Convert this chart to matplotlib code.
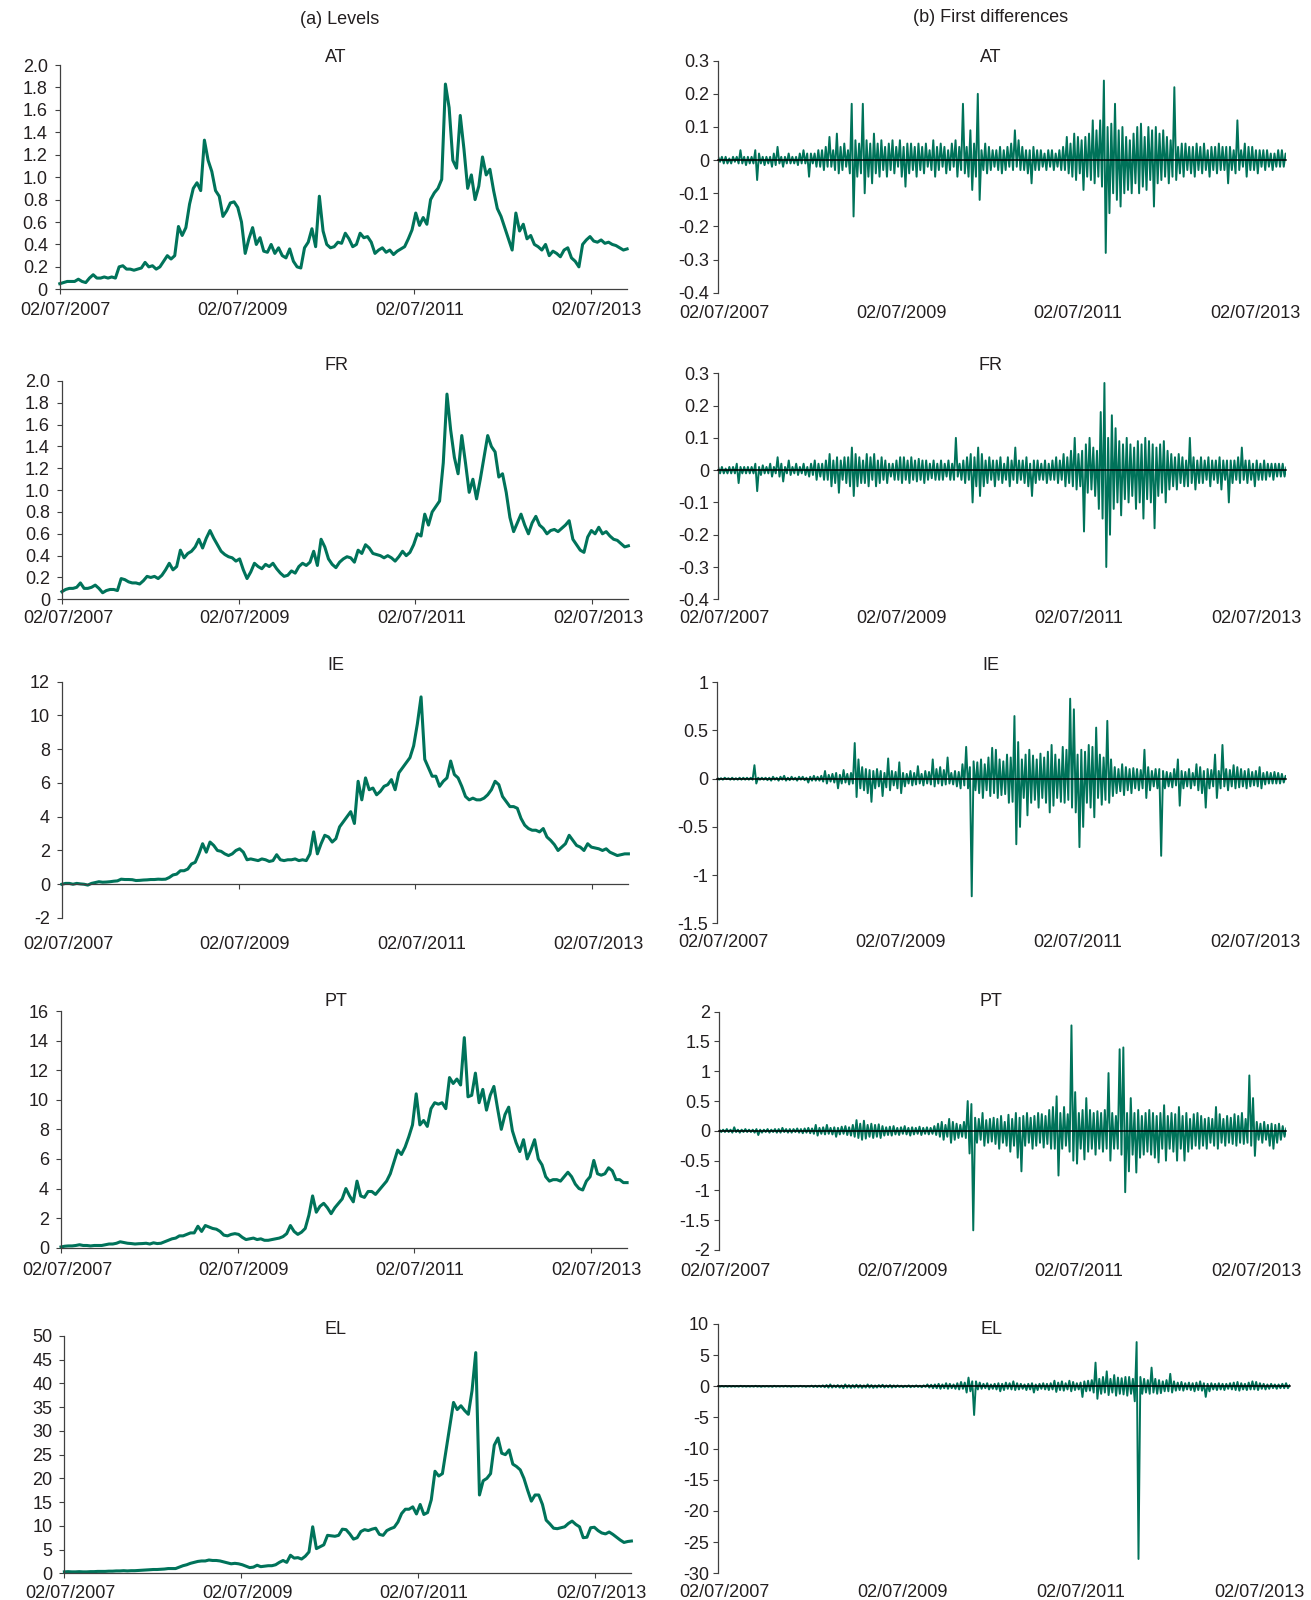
import numpy as np
import pandas as pd
import matplotlib
matplotlib.use('Agg')
import matplotlib.pyplot as plt
from matplotlib.ticker import FixedLocator, FuncFormatter
from matplotlib.transforms import ScaledTranslation
import matplotlib.dates as mdates

plt.rcParams['font.family'] = ['Liberation Sans', 'DejaVu Sans']
plt.rcParams['font.size'] = 13

countries = ['AT', 'FR', 'IE', 'PT', 'EL']
start, end = '2007-07-02', '2013-11-29'
tick_dates = ['2007-07-02', '2009-07-02', '2011-07-02', '2013-07-02']

# levels
at_level = [0.05, 0.06, 0.07, 0.07, 0.07, 0.09, 0.07, 0.06, 0.10, 0.13,
            0.10, 0.10, 0.11, 0.10, 0.11, 0.10, 0.20, 0.21, 0.18, 0.18,
            0.17, 0.18, 0.19, 0.24, 0.20, 0.21, 0.18, 0.20, 0.25, 0.30,
            0.27, 0.30, 0.56, 0.48, 0.55, 0.76, 0.90, 0.95, 0.88, 1.33,
            1.15, 1.05, 0.88, 0.83, 0.65, 0.70, 0.77, 0.78, 0.73, 0.60,
            0.32, 0.45, 0.55, 0.40, 0.46, 0.34, 0.33, 0.40, 0.32, 0.37,
            0.30, 0.28, 0.36, 0.25, 0.20, 0.19, 0.37, 0.42, 0.54, 0.38,
            0.83, 0.52, 0.40, 0.37, 0.38, 0.42, 0.41, 0.50, 0.45, 0.38,
            0.40, 0.50, 0.46, 0.47, 0.42, 0.32, 0.35, 0.37, 0.33, 0.35,
            0.31, 0.34, 0.36, 0.38, 0.45, 0.53, 0.68, 0.57, 0.64, 0.58,
            0.80, 0.86, 0.90, 0.98, 1.83, 1.62, 1.15, 1.08, 1.55, 1.25,
            0.90, 1.02, 0.80, 0.92, 1.18, 1.02, 1.07, 0.88, 0.72, 0.65,
            0.55, 0.45, 0.35, 0.68, 0.52, 0.58, 0.45, 0.48, 0.40, 0.38,
            0.35, 0.40, 0.30, 0.34, 0.32, 0.29, 0.35, 0.37, 0.28, 0.25,
            0.20, 0.40, 0.44, 0.47, 0.43, 0.42, 0.44, 0.41, 0.42, 0.40,
            0.39, 0.37, 0.35, 0.36]
fr_level = [0.07, 0.09, 0.10, 0.10, 0.11, 0.15, 0.10, 0.10, 0.11, 0.13,
            0.10, 0.06, 0.08, 0.09, 0.09, 0.08, 0.19, 0.18, 0.16, 0.15,
            0.15, 0.14, 0.17, 0.21, 0.20, 0.21, 0.19, 0.22, 0.27, 0.33,
            0.27, 0.30, 0.45, 0.38, 0.42, 0.44, 0.48, 0.55, 0.47, 0.56,
            0.63, 0.56, 0.50, 0.44, 0.41, 0.39, 0.38, 0.35, 0.37, 0.27,
            0.19, 0.25, 0.33, 0.30, 0.28, 0.32, 0.30, 0.33, 0.28, 0.24,
            0.21, 0.22, 0.26, 0.24, 0.30, 0.33, 0.31, 0.34, 0.44, 0.31,
            0.55, 0.48, 0.37, 0.32, 0.29, 0.34, 0.37, 0.39, 0.38, 0.34,
            0.45, 0.42, 0.50, 0.47, 0.42, 0.41, 0.40, 0.38, 0.40, 0.38,
            0.35, 0.39, 0.44, 0.40, 0.43, 0.50, 0.60, 0.58, 0.78, 0.68,
            0.80, 0.85, 0.90, 1.25, 1.88, 1.55, 1.30, 1.15, 1.50, 1.25,
            0.98, 1.10, 0.92, 1.10, 1.30, 1.50, 1.40, 1.35, 1.12, 1.15,
            0.98, 0.75, 0.62, 0.70, 0.78, 0.68, 0.60, 0.70, 0.76, 0.68,
            0.65, 0.60, 0.63, 0.64, 0.62, 0.65, 0.68, 0.72, 0.55, 0.50,
            0.45, 0.43, 0.57, 0.63, 0.60, 0.66, 0.60, 0.62, 0.58, 0.55,
            0.54, 0.51, 0.48, 0.49]
ie_level = [0.00, 0.05, 0.05, 0.00, 0.05, 0.02, 0.00, -0.05, 0.05, 0.10,
            0.15, 0.12, 0.13, 0.15, 0.18, 0.20, 0.30, 0.28, 0.28, 0.27,
            0.22, 0.23, 0.25, 0.26, 0.28, 0.28, 0.30, 0.29, 0.30, 0.40,
            0.55, 0.60, 0.80, 0.80, 0.90, 1.20, 1.30, 1.80, 2.40, 1.90,
            2.50, 2.30, 2.00, 1.95, 1.80, 1.70, 1.80, 2.00, 2.10, 1.90,
            1.45, 1.50, 1.45, 1.40, 1.50, 1.45, 1.35, 1.40, 1.75, 1.45,
            1.40, 1.45, 1.45, 1.50, 1.40, 1.45, 1.40, 1.80, 3.10, 1.80,
            2.40, 2.90, 2.80, 2.50, 2.70, 3.40, 3.70, 4.00, 4.30, 3.60,
            6.10, 5.00, 6.30, 5.60, 5.70, 5.30, 5.50, 5.80, 5.90, 6.20,
            5.60, 6.60, 6.90, 7.20, 7.50, 8.20, 9.50, 11.10, 7.40, 6.90,
            6.40, 6.40, 5.80, 6.10, 6.30, 7.30, 6.50, 6.30, 5.80, 5.20,
            5.00, 5.10, 5.00, 5.00, 5.10, 5.30, 5.60, 6.10, 5.90, 5.20,
            4.90, 4.60, 4.60, 4.50, 3.90, 3.50, 3.30, 3.20, 3.20, 3.10,
            3.30, 2.80, 2.60, 2.35, 2.00, 2.20, 2.40, 2.90, 2.60, 2.30,
            2.20, 2.00, 2.40, 2.20, 2.15, 2.10, 2.00, 2.10, 1.90, 1.80,
            1.70, 1.75, 1.80, 1.80]
pt_level = [0.05, 0.10, 0.12, 0.12, 0.15, 0.20, 0.15, 0.15, 0.12, 0.15,
            0.15, 0.15, 0.20, 0.25, 0.25, 0.30, 0.40, 0.35, 0.30, 0.28,
            0.25, 0.27, 0.28, 0.30, 0.25, 0.33, 0.28, 0.30, 0.40, 0.50,
            0.60, 0.65, 0.80, 0.80, 0.90, 1.00, 1.00, 1.45, 1.10, 1.50,
            1.40, 1.30, 1.25, 1.10, 0.85, 0.80, 0.90, 0.95, 0.90, 0.70,
            0.55, 0.60, 0.65, 0.55, 0.60, 0.50, 0.50, 0.55, 0.60, 0.65,
            0.75, 0.95, 1.50, 1.10, 0.90, 1.05, 1.30, 2.20, 3.50, 2.40,
            2.80, 3.00, 2.70, 2.30, 2.70, 3.00, 3.30, 4.00, 3.50, 3.10,
            4.50, 3.50, 3.40, 3.80, 3.80, 3.60, 3.90, 4.20, 4.50, 5.00,
            5.80, 6.60, 6.30, 6.80, 7.50, 8.30, 10.40, 8.30, 8.60, 8.20,
            9.40, 9.80, 9.70, 9.80, 9.40, 11.50, 11.10, 11.40, 11.00, 14.20,
            10.20, 10.30, 11.80, 9.80, 10.70, 9.30, 10.30, 10.90, 9.40, 8.00,
            9.00, 9.50, 7.90, 7.10, 6.50, 7.30, 6.00, 6.60, 7.30, 6.00,
            5.60, 4.80, 4.50, 4.60, 4.60, 4.50, 4.80, 5.10, 4.80, 4.30,
            4.00, 3.90, 4.50, 4.80, 5.90, 5.00, 4.90, 5.00, 5.40, 5.20,
            4.60, 4.60, 4.40, 4.40]
el_level = [0.3, 0.35, 0.3, 0.3, 0.35, 0.3, 0.3, 0.35, 0.35, 0.4,
            0.4, 0.4, 0.45, 0.45, 0.5, 0.5, 0.55, 0.5, 0.55, 0.55,
            0.6, 0.65, 0.7, 0.75, 0.8, 0.8, 0.85, 0.9, 1.0, 1.0,
            1.0, 1.3, 1.6, 1.8, 2.1, 2.3, 2.5, 2.6, 2.6, 2.8,
            2.7, 2.7, 2.6, 2.4, 2.2, 2.0, 2.1, 2.0, 1.8, 1.5,
            1.2, 1.3, 1.7, 1.4, 1.5, 1.6, 1.6, 1.8, 2.3, 2.7,
            2.3, 3.8, 3.2, 3.3, 3.0, 3.6, 4.5, 9.8, 5.2, 5.6,
            6.0, 8.0, 7.9, 7.8, 8.0, 9.3, 9.2, 8.3, 7.2, 7.5,
            8.8, 9.2, 9.0, 9.3, 9.5, 8.2, 8.0, 9.0, 9.4, 9.7,
            10.8, 12.6, 13.5, 13.5, 14.0, 12.5, 14.5, 12.4, 12.8, 15.5,
            21.5, 20.5, 21.0, 26.0, 31.0, 36.0, 34.5, 35.3, 34.3, 33.5,
            38.5, 46.5, 16.5, 19.5, 20.0, 21.0, 27.0, 28.5, 25.3, 25.0,
            26.0, 23.0, 22.5, 21.8, 20.0, 17.5, 15.2, 16.5, 16.5, 14.5,
            11.2, 10.4, 9.5, 9.4, 9.6, 9.8, 10.5, 11.0, 10.3, 9.8,
            7.5, 7.6, 9.6, 9.7, 9.0, 8.5, 8.3, 8.7, 8.2, 7.6,
            7.0, 6.5, 6.7, 6.8]

# first differences: largest rise and largest fall in each half month
at_up = [0.01, 0.01, 0.01, 0.005, 0.01, 0.01, 0.03, 0.01, 0.01, 0.01,
         0.03, 0.02, 0.01, 0.01, 0.01, 0.02, 0.04, 0.01, 0.01, 0.02,
         0.01, 0.01, 0.02, 0.03, 0.02, 0.02, 0.02, 0.03, 0.03, 0.04,
         0.07, 0.03, 0.08, 0.04, 0.05, 0.03, 0.17, 0.06, 0.05, 0.17,
         0.06, 0.05, 0.08, 0.05, 0.06, 0.04, 0.05, 0.06, 0.04, 0.06,
         0.04, 0.05, 0.05, 0.04, 0.05, 0.04, 0.05, 0.03, 0.06, 0.04,
         0.05, 0.04, 0.03, 0.05, 0.06, 0.04, 0.17, 0.04, 0.09, 0.05,
         0.20, 0.03, 0.05, 0.04, 0.03, 0.03, 0.04, 0.03, 0.04, 0.05,
         0.09, 0.06, 0.04, 0.03, 0.03, 0.04, 0.03, 0.03, 0.02, 0.03,
         0.03, 0.02, 0.03, 0.04, 0.07, 0.05, 0.08, 0.07, 0.06, 0.07,
         0.08, 0.12, 0.09, 0.12, 0.24, 0.10, 0.11, 0.17, 0.09, 0.10,
         0.07, 0.06, 0.08, 0.10, 0.11, 0.07, 0.10, 0.09, 0.10, 0.08,
         0.09, 0.07, 0.06, 0.22, 0.04, 0.05, 0.05, 0.04, 0.04, 0.05,
         0.04, 0.05, 0.03, 0.04, 0.04, 0.05, 0.04, 0.04, 0.04, 0.03,
         0.12, 0.03, 0.05, 0.04, 0.04, 0.03, 0.03, 0.03, 0.03, 0.02,
         0.02, 0.03, 0.03, 0.02]
at_dn = [-0.005, -0.01, -0.01, -0.01, -0.005, -0.01, -0.01, -0.015, -0.01, -0.01,
         -0.06, -0.01, -0.015, -0.01, -0.02, -0.015, -0.01, -0.02, -0.01, -0.01,
         -0.01, -0.015, -0.01, -0.01, -0.05, -0.01, -0.02, -0.02, -0.03, -0.02,
         -0.02, -0.03, -0.04, -0.03, -0.02, -0.04, -0.17, -0.05, -0.04, -0.10,
         -0.05, -0.07, -0.04, -0.05, -0.03, -0.05, -0.03, -0.04, -0.02, -0.05,
         -0.08, -0.04, -0.03, -0.05, -0.03, -0.04, -0.02, -0.03, -0.05, -0.03,
         -0.02, -0.04, -0.03, -0.02, -0.05, -0.03, -0.04, -0.05, -0.09, -0.05,
         -0.12, -0.03, -0.04, -0.03, -0.02, -0.03, -0.04, -0.03, -0.02, -0.03,
         -0.02, -0.03, -0.03, -0.04, -0.07, -0.03, -0.03, -0.02, -0.03, -0.02,
         -0.03, -0.02, -0.03, -0.03, -0.04, -0.05, -0.06, -0.04, -0.09, -0.05,
         -0.06, -0.07, -0.05, -0.08, -0.28, -0.16, -0.10, -0.12, -0.14, -0.10,
         -0.09, -0.10, -0.07, -0.10, -0.08, -0.09, -0.06, -0.14, -0.07, -0.06,
         -0.05, -0.07, -0.05, -0.06, -0.04, -0.05, -0.03, -0.04, -0.05, -0.03,
         -0.04, -0.03, -0.05, -0.03, -0.04, -0.03, -0.03, -0.07, -0.03, -0.04,
         -0.03, -0.02, -0.05, -0.03, -0.03, -0.04, -0.02, -0.03, -0.02, -0.03,
         -0.02, -0.02, -0.02, -0.01]
fr_up = [0.01, 0.01, 0.005, 0.01, 0.01, 0.02, 0.01, 0.01, 0.01, 0.01,
         0.02, 0.01, 0.015, 0.01, 0.02, 0.01, 0.04, 0.02, 0.01, 0.03,
         0.01, 0.02, 0.01, 0.02, 0.01, 0.02, 0.03, 0.02, 0.02, 0.03,
         0.05, 0.03, 0.04, 0.03, 0.04, 0.04, 0.07, 0.05, 0.04, 0.03,
         0.05, 0.04, 0.05, 0.03, 0.04, 0.03, 0.02, 0.02, 0.03, 0.04,
         0.04, 0.03, 0.04, 0.03, 0.035, 0.03, 0.03, 0.02, 0.03, 0.02,
         0.03, 0.02, 0.03, 0.02, 0.10, 0.02, 0.03, 0.04, 0.05, 0.04,
         0.07, 0.05, 0.03, 0.04, 0.03, 0.03, 0.04, 0.02, 0.04, 0.03,
         0.07, 0.03, 0.03, 0.04, 0.02, 0.03, 0.03, 0.02, 0.03, 0.02,
         0.03, 0.04, 0.03, 0.05, 0.04, 0.06, 0.10, 0.05, 0.06, 0.08,
         0.10, 0.07, 0.06, 0.18, 0.27, 0.10, 0.17, 0.13, 0.09, 0.08,
         0.10, 0.08, 0.07, 0.09, 0.08, 0.10, 0.09, 0.08, 0.07, 0.08,
         0.09, 0.06, 0.05, 0.04, 0.05, 0.04, 0.03, 0.10, 0.04, 0.03,
         0.04, 0.03, 0.04, 0.03, 0.03, 0.04, 0.03, 0.03, 0.03, 0.03,
         0.04, 0.07, 0.03, 0.03, 0.02, 0.03, 0.02, 0.03, 0.02, 0.02,
         0.02, 0.02, 0.02, 0.01]
fr_dn = [-0.01, -0.01, -0.01, -0.01, -0.01, -0.04, -0.01, -0.01, -0.01, -0.01,
         -0.065, -0.015, -0.01, -0.01, -0.02, -0.01, -0.02, -0.035, -0.01, -0.015,
         -0.01, -0.015, -0.01, -0.015, -0.02, -0.015, -0.03, -0.02, -0.03, -0.03,
         -0.05, -0.04, -0.07, -0.03, -0.04, -0.05, -0.08, -0.05, -0.04, -0.04,
         -0.05, -0.03, -0.05, -0.04, -0.03, -0.04, -0.02, -0.03, -0.03, -0.04,
         -0.03, -0.04, -0.03, -0.035, -0.03, -0.04, -0.03, -0.025, -0.03, -0.03,
         -0.03, -0.02, -0.03, -0.03, -0.02, -0.03, -0.04, -0.03, -0.10, -0.05,
         -0.08, -0.05, -0.04, -0.03, -0.05, -0.03, -0.04, -0.03, -0.05, -0.03,
         -0.04, -0.03, -0.04, -0.05, -0.08, -0.04, -0.03, -0.03, -0.04, -0.03,
         -0.03, -0.04, -0.03, -0.05, -0.04, -0.05, -0.06, -0.05, -0.19, -0.07,
         -0.06, -0.08, -0.12, -0.15, -0.30, -0.20, -0.12, -0.10, -0.14, -0.09,
         -0.10, -0.08, -0.12, -0.10, -0.15, -0.09, -0.10, -0.18, -0.08, -0.07,
         -0.10, -0.06, -0.05, -0.06, -0.04, -0.05, -0.05, -0.04, -0.06, -0.04,
         -0.04, -0.03, -0.05, -0.03, -0.04, -0.06, -0.03, -0.10, -0.04, -0.03,
         -0.04, -0.03, -0.04, -0.03, -0.05, -0.03, -0.03, -0.03, -0.02, -0.03,
         -0.02, -0.02, -0.02, -0.01]
ie_up = [0.01, 0.005, 0.01, 0.005, 0.01, 0.005, 0.01, 0.01, 0.01, 0.01,
         0.14, 0.01, 0.01, 0.01, 0.01, 0.02, 0.01, 0.02, 0.03, 0.01,
         0.02, 0.01, 0.02, 0.02, 0.01, 0.02, 0.03, 0.02, 0.03, 0.08,
         0.04, 0.05, 0.06, 0.04, 0.09, 0.05, 0.06, 0.37, 0.20, 0.12,
         0.10, 0.09, 0.08, 0.10, 0.08, 0.06, 0.21, 0.08, 0.07, 0.17,
         0.06, 0.05, 0.08, 0.06, 0.13, 0.05, 0.08, 0.07, 0.20, 0.10,
         0.12, 0.09, 0.22, 0.06, 0.08, 0.07, 0.15, 0.33, 0.12, 0.18,
         0.17, 0.20, 0.15, 0.22, 0.32, 0.30, 0.20, 0.18, 0.25, 0.22,
         0.65, 0.38, 0.20, 0.25, 0.30, 0.24, 0.20, 0.26, 0.22, 0.28,
         0.35, 0.25, 0.20, 0.33, 0.30, 0.83, 0.72, 0.25, 0.30, 0.28,
         0.35, 0.33, 0.53, 0.25, 0.22, 0.60, 0.20, 0.12, 0.10, 0.15,
         0.12, 0.10, 0.11, 0.10, 0.09, 0.30, 0.12, 0.08, 0.10, 0.10,
         0.08, 0.07, 0.06, 0.10, 0.20, 0.08, 0.07, 0.10, 0.06, 0.15,
         0.12, 0.08, 0.10, 0.09, 0.25, 0.08, 0.35, 0.10, 0.09, 0.14,
         0.12, 0.10, 0.08, 0.10, 0.07, 0.08, 0.12, 0.06, 0.07, 0.06,
         0.07, 0.06, 0.05, 0.03]
ie_dn = [-0.01, -0.01, -0.005, -0.01, -0.01, -0.01, -0.01, -0.01, -0.01, -0.01,
         -0.05, -0.01, -0.01, -0.015, -0.02, -0.01, -0.02, -0.01, -0.02, -0.015,
         -0.01, -0.02, -0.01, -0.015, -0.04, -0.02, -0.02, -0.02, -0.03, -0.05,
         -0.03, -0.04, -0.10, -0.05, -0.04, -0.06, -0.05, -0.19, -0.10, -0.12,
         -0.15, -0.24, -0.10, -0.08, -0.18, -0.09, -0.12, -0.07, -0.10, -0.15,
         -0.08, -0.05, -0.07, -0.06, -0.05, -0.07, -0.05, -0.06, -0.08, -0.05,
         -0.07, -0.06, -0.05, -0.06, -0.08, -0.10, -0.07, -0.10, -1.22, -0.12,
         -0.15, -0.20, -0.12, -0.18, -0.15, -0.20, -0.17, -0.16, -0.25, -0.24,
         -0.68, -0.50, -0.20, -0.38, -0.25, -0.22, -0.30, -0.20, -0.25, -0.35,
         -0.28, -0.20, -0.24, -0.25, -0.22, -0.30, -0.35, -0.71, -0.50, -0.25,
         -0.30, -0.40, -0.20, -0.27, -0.22, -0.25, -0.18, -0.15, -0.13, -0.17,
         -0.12, -0.15, -0.10, -0.12, -0.10, -0.20, -0.12, -0.08, -0.10, -0.80,
         -0.10, -0.08, -0.09, -0.07, -0.28, -0.10, -0.08, -0.10, -0.07, -0.12,
         -0.15, -0.30, -0.10, -0.08, -0.20, -0.10, -0.08, -0.12, -0.08, -0.10,
         -0.09, -0.08, -0.10, -0.08, -0.07, -0.08, -0.10, -0.06, -0.05, -0.05,
         -0.05, -0.05, -0.04, -0.02]
pt_up = [0.02, 0.02, 0.03, 0.02, 0.06, 0.02, 0.02, 0.03, 0.02, 0.02,
         0.03, 0.02, 0.02, 0.03, 0.02, 0.03, 0.03, 0.05, 0.03, 0.03,
         0.03, 0.04, 0.03, 0.04, 0.05, 0.04, 0.10, 0.05, 0.06, 0.10,
         0.05, 0.06, 0.05, 0.07, 0.08, 0.06, 0.10, 0.18, 0.12, 0.17,
         0.10, 0.12, 0.10, 0.11, 0.08, 0.06, 0.07, 0.08, 0.05, 0.06,
         0.08, 0.05, 0.06, 0.05, 0.07, 0.05, 0.06, 0.05, 0.08, 0.12,
         0.15, 0.10, 0.20, 0.15, 0.12, 0.10, 0.15, 0.50, 0.45, 0.22,
         0.20, 0.30, 0.18, 0.20, 0.22, 0.20, 0.25, 0.15, 0.27, 0.20,
         0.30, 0.22, 0.25, 0.30, 0.22, 0.25, 0.30, 0.28, 0.25, 0.35,
         0.40, 0.58, 0.30, 0.40, 0.28, 1.77, 0.65, 0.30, 0.35, 0.55,
         0.35, 0.30, 0.33, 0.30, 0.35, 0.97, 0.30, 0.25, 1.37, 1.40,
         0.30, 0.55, 0.30, 0.35, 0.25, 0.30, 0.35, 0.30, 0.25, 0.30,
         0.43, 0.25, 0.30, 0.28, 0.40, 0.25, 0.30, 0.20, 0.28, 0.30,
         0.25, 0.20, 0.22, 0.20, 0.40, 0.28, 0.20, 0.25, 0.22, 0.28,
         0.25, 0.30, 0.20, 0.93, 0.55, 0.15, 0.12, 0.15, 0.10, 0.12,
         0.10, 0.12, 0.08, 0.05]
pt_dn = [-0.02, -0.02, -0.02, -0.03, -0.02, -0.03, -0.02, -0.02, -0.02, -0.03,
         -0.07, -0.03, -0.02, -0.03, -0.02, -0.03, -0.03, -0.02, -0.03, -0.03,
         -0.02, -0.03, -0.04, -0.03, -0.04, -0.05, -0.08, -0.05, -0.06, -0.05,
         -0.06, -0.10, -0.06, -0.05, -0.07, -0.08, -0.10, -0.12, -0.15, -0.13,
         -0.10, -0.12, -0.10, -0.12, -0.08, -0.07, -0.08, -0.06, -0.07, -0.05,
         -0.06, -0.08, -0.06, -0.05, -0.07, -0.05, -0.06, -0.05, -0.07, -0.10,
         -0.15, -0.10, -0.20, -0.15, -0.12, -0.10, -0.12, -0.38, -1.67, -0.20,
         -0.15, -0.25, -0.20, -0.18, -0.22, -0.30, -0.20, -0.25, -0.35, -0.25,
         -0.45, -0.68, -0.25, -0.20, -0.30, -0.25, -0.20, -0.28, -0.22, -0.30,
         -0.30, -0.75, -0.30, -0.25, -0.35, -0.50, -0.55, -0.30, -0.48, -0.35,
         -0.30, -0.40, -0.30, -0.35, -0.30, -0.50, -0.30, -0.30, -0.40, -1.03,
         -0.68, -0.40, -0.70, -0.45, -0.40, -0.35, -0.40, -0.45, -0.53, -0.30,
         -0.50, -0.30, -0.35, -0.50, -0.30, -0.50, -0.35, -0.30, -0.25, -0.30,
         -0.25, -0.30, -0.20, -0.25, -0.30, -0.20, -0.25, -0.20, -0.22, -0.25,
         -0.20, -0.22, -0.20, -0.25, -0.42, -0.15, -0.20, -0.15, -0.25, -0.30,
         -0.20, -0.15, -0.10, -0.08]
el_up = [0.05, 0.05, 0.05, 0.05, 0.05, 0.05, 0.08, 0.05, 0.05, 0.05,
         0.08, 0.05, 0.05, 0.05, 0.05, 0.08, 0.05, 0.05, 0.08, 0.05,
         0.05, 0.05, 0.08, 0.05, 0.05, 0.10, 0.10, 0.10, 0.15, 0.20,
         0.30, 0.15, 0.20, 0.15, 0.30, 0.20, 0.20, 0.25, 0.20, 0.15,
         0.30, 0.20, 0.15, 0.20, 0.25, 0.15, 0.20, 0.15, 0.15, 0.10,
         0.10, 0.15, 0.10, 0.15, 0.10, 0.15, 0.30, 0.25, 0.30, 0.40,
         0.30, 0.50, 0.40, 0.30, 0.50, 0.70, 0.60, 1.40, 0.80, 0.80,
         0.60, 0.40, 0.50, 0.30, 0.40, 0.50, 0.40, 0.60, 0.50, 0.80,
         0.50, 0.40, 0.30, 0.40, 0.50, 0.30, 0.40, 0.50, 0.40, 0.50,
         0.90, 0.60, 0.80, 0.50, 0.90, 0.70, 0.50, 0.60, 0.80, 0.90,
         1.00, 3.80, 1.20, 1.50, 2.40, 1.20, 1.80, 1.40, 1.30, 1.50,
         1.50, 1.20, 7.10, 1.50, 1.20, 1.00, 3.00, 1.20, 1.00, 0.80,
         1.00, 2.00, 0.80, 0.60, 0.70, 0.50, 0.60, 0.50, 0.60, 0.80,
         0.50, 0.40, 0.50, 0.40, 0.50, 0.40, 0.40, 0.50, 0.60, 0.70,
         0.50, 0.40, 0.60, 0.80, 0.70, 0.50, 0.40, 0.30, 0.40, 0.30,
         0.30, 0.40, 0.50, 0.20]
el_dn = [-0.05, -0.05, -0.05, -0.05, -0.05, -0.05, -0.05, -0.05, -0.05, -0.05,
         -0.05, -0.08, -0.05, -0.05, -0.08, -0.05, -0.05, -0.05, -0.05, -0.08,
         -0.05, -0.05, -0.05, -0.08, -0.05, -0.10, -0.10, -0.10, -0.15, -0.20,
         -0.20, -0.15, -0.20, -0.30, -0.20, -0.25, -0.20, -0.20, -0.25, -0.20,
         -0.20, -0.25, -0.20, -0.15, -0.20, -0.15, -0.20, -0.15, -0.10, -0.15,
         -0.10, -0.15, -0.10, -0.10, -0.15, -0.10, -0.20, -0.30, -0.30, -0.40,
         -0.30, -0.40, -0.30, -0.40, -0.50, -0.40, -1.00, -0.80, -4.60, -0.50,
         -0.40, -0.30, -0.50, -0.40, -0.50, -0.80, -0.60, -0.40, -0.50, -0.60,
         -0.50, -0.40, -0.60, -0.50, -1.00, -0.60, -0.40, -0.50, -0.60, -0.50,
         -0.90, -0.60, -0.70, -0.50, -0.80, -0.60, -0.50, -1.70, -0.80, -0.70,
         -1.00, -2.00, -1.20, -1.00, -1.40, -1.00, -1.50, -1.20, -1.30, -1.50,
         -1.20, -2.40, -27.70, -1.20, -1.00, -1.20, -1.00, -1.20, -1.10, -0.80,
         -0.80, -1.00, -0.70, -0.60, -0.70, -0.50, -0.60, -0.80, -0.60, -0.70,
         -1.70, -0.80, -0.50, -0.60, -0.50, -0.60, -0.40, -0.50, -0.60, -0.70,
         -0.50, -0.60, -0.50, -0.50, -0.60, -0.40, -0.50, -0.40, -0.30, -0.40,
         -0.30, -0.30, -0.30, -0.20]

levels = [at_level, fr_level, ie_level, pt_level, el_level]
diff_up = [at_up, fr_up, ie_up, pt_up, el_up]
diff_dn = [at_dn, fr_dn, ie_dn, pt_dn, el_dn]

level_lims = [(0, 2.0), (0, 2.0), (-2, 12), (0, 16), (0, 50)]
level_ticks = [np.arange(0, 2.01, 0.2), np.arange(0, 2.01, 0.2),
               np.arange(-2, 12.1, 2), np.arange(0, 16.1, 2), np.arange(0, 50.1, 5)]
diff_lims = [(-0.4, 0.3), (-0.4, 0.3), (-1.5, 1), (-2, 2), (-30, 10)]
diff_ticks = [np.arange(-0.4, 0.31, 0.1), np.arange(-0.4, 0.31, 0.1),
              np.arange(-1.5, 1.01, 0.5), np.arange(-2, 2.01, 0.5), np.arange(-30, 10.1, 5)]

# layout in pixels of the 1311 x 1600 picture (x0, y0, x1, y1)
W, H = 1311, 1600
left_boxes = [(59.8, 65, 627.1, 289.3), (61.9, 381, 628.4, 599.3), (61.9, 681.7, 628.4, 918),
              (61.0, 1011, 627.1, 1247.7), (64.4, 1336, 631.4, 1573.3)]
right_boxes = [(718.2, 60.7, 1285.6, 292.7), (718.2, 373.3, 1286.4, 599.3),
               (717.3, 682.3, 1285.6, 923.3), (719.4, 1011.7, 1286.4, 1250),
               (718.2, 1324, 1289.8, 1573.3)]
label_y = [[309, 616.7, 943, 1269, 1592], [312, 617, 941, 1270, 1591]]
title_y = [57, 366, 665, 1001, 1329]

green = '#00735a'
axis_col = '#404040'
text_col = '#231f20'

fig = plt.figure(figsize=(W / 100, H / 100), dpi=100)
shift = ScaledTranslation(6 / 100, 0, fig.dpi_scale_trans)
xlo, xhi = pd.Timestamp(start), pd.Timestamp(end)


def fmt_dec(v, pos):
    return '0' if abs(v) < 1e-9 else f'{v:.1f}'


def fmt_gen(v, pos):
    return '0' if abs(v) < 1e-9 else f'{round(v, 2):g}'


def setup(ax, bx, lims, ticks, fmt, lab_y, xtick_len, ypad):
    x0, y0, x1, y1 = bx
    ax.set_position([x0 / W, 1 - y1 / H, (x1 - x0) / W, (y1 - y0) / H])
    ax.set_xlim(xlo, xhi)
    ax.set_ylim(*lims)
    for s in ['top', 'right']:
        ax.spines[s].set_visible(False)
    ax.spines['left'].set_color(axis_col)
    ax.spines['left'].set_linewidth(0.9)
    ax.spines['bottom'].set_position(('data', 0))
    ax.yaxis.set_major_locator(FixedLocator(ticks))
    ax.yaxis.set_major_formatter(FuncFormatter(fmt))
    ax.xaxis.set_major_locator(FixedLocator(mdates.date2num(pd.to_datetime(tick_dates))))
    ax.xaxis.set_major_formatter(mdates.DateFormatter('%d/%m/%Y'))
    ax.tick_params(axis='y', length=3.6, width=0.8, pad=ypad, color=axis_col,
                   labelcolor=text_col, labelsize=13)
    zero_y = y0 + (y1 - y0) * lims[1] / (lims[1] - lims[0])
    pad_px = (lab_y - 7) - zero_y - xtick_len * 100 / 72
    ax.tick_params(axis='x', length=xtick_len, width=0.8, color=axis_col,
                   pad=pad_px * 72 / 100, labelcolor=text_col, labelsize=13)
    for lab in ax.get_xticklabels():
        lab.set_transform(lab.get_transform() + shift)
    ax.patch.set_visible(False)


for r, c in enumerate(countries):
    # (a) levels
    ax = fig.add_axes([0, 0, 1, 1])
    d = pd.date_range(start, end, periods=len(levels[r]))
    ax.plot(d, levels[r], color=green, lw=2.2, clip_on=False, solid_joinstyle='round')
    fmt = fmt_dec if r < 2 else fmt_gen
    setup(ax, left_boxes[r], level_lims[r], level_ticks[r], fmt, label_y[0][r], 3.6, 5)
    ax.spines['bottom'].set_color(axis_col)
    ax.spines['bottom'].set_linewidth(0.9)

    # (b) first differences
    ax = fig.add_axes([0, 0, 1, 1])
    d = pd.date_range(start, end, periods=len(diff_up[r])).values
    half = (d[1] - d[0]) / 2
    xs = np.column_stack([d, d + half]).ravel()
    ys = np.column_stack([diff_up[r], diff_dn[r]]).ravel()
    ax.plot(xs, ys, color=green, lw=1.4)
    setup(ax, right_boxes[r], diff_lims[r], diff_ticks[r], fmt, label_y[1][r], 0, 3)
    ax.spines['bottom'].set_color('black')
    ax.spines['bottom'].set_linewidth(1.1)

    fig.text(336 / W, 1 - title_y[r] / H, c, ha='center', va='center',
             fontsize=13, color=text_col)
    fig.text(991 / W, 1 - title_y[r] / H, c, ha='center', va='center',
             fontsize=13, color=text_col)

fig.text(340 / W, 1 - 20 / H, '(a) Levels', ha='center', va='center',
         fontsize=13, color=text_col)
fig.text(991 / W, 1 - 18 / H, '(b) First differences', ha='center', va='center',
         fontsize=13, color=text_col)

fig.savefig('out.png', dpi=100, facecolor='white')
